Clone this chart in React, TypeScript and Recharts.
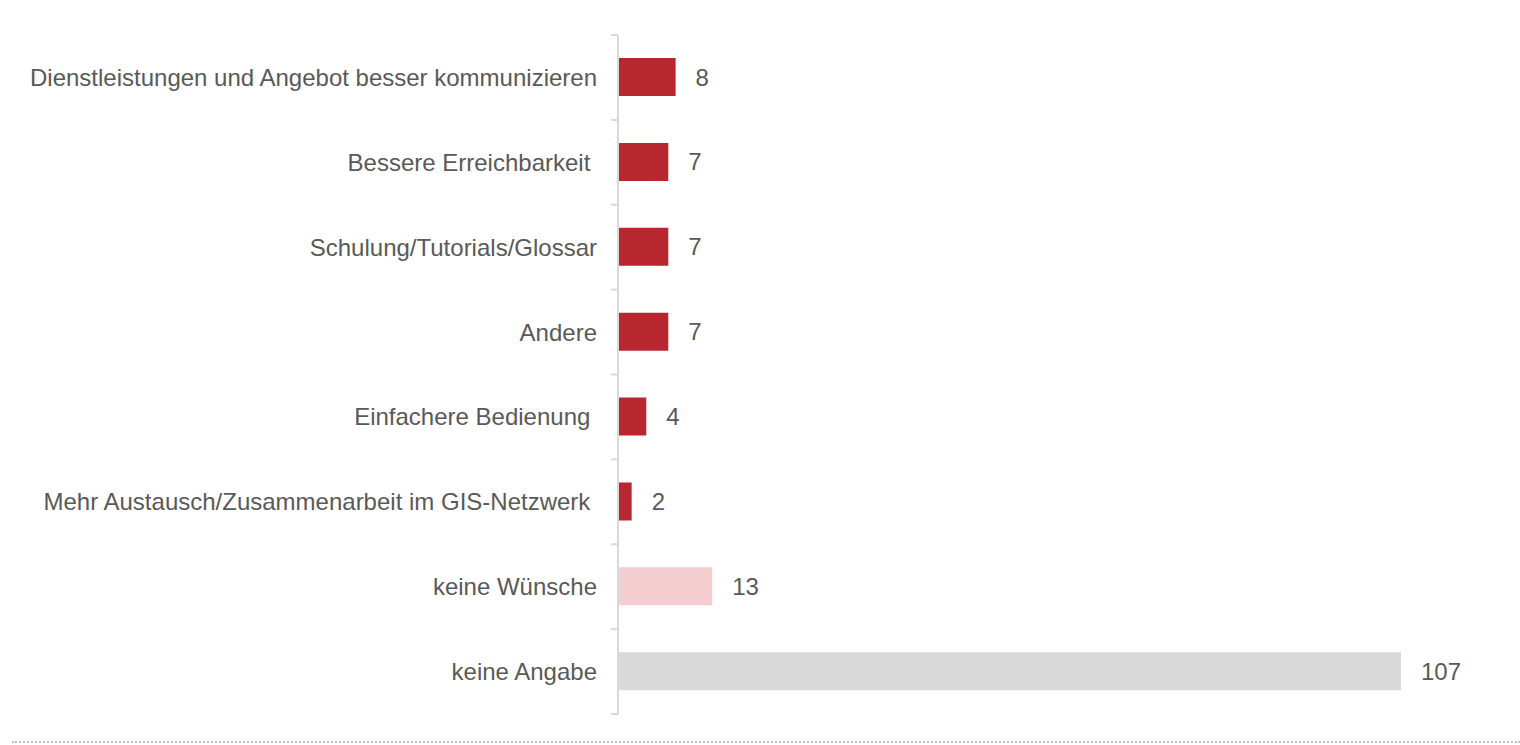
import React from 'react';
import { BarChart, Bar, XAxis, YAxis, Cell, LabelList } from 'recharts';

const categories = [
  'Dienstleistungen und Angebot besser kommunizieren',
  'Bessere Erreichbarkeit\u00A0',
  'Schulung/Tutorials/Glossar',
  'Andere',
  'Einfachere Bedienung\u00A0',
  'Mehr Austausch/Zusammenarbeit im GIS-Netzwerk\u00A0',
  'keine Wünsche',
  'keine Angabe',
];
const values = [8, 7, 7, 7, 4, 2, 13, 107];
const barColors = ['#B8272F', '#B8272F', '#B8272F', '#B8272F', '#B8272F', '#B8272F', '#F4CDD1', '#D9D9D9'];

const data = categories.map((c, i) => ({ name: c, value: values[i], color: barColors[i] }));

const W = 1520;
const H = 745;
const AXIS_X = 618;
const TOP = 35;
const BOTTOM = 714;
const RIGHT = 1402;
const BAND_HALF = (BOTTOM - TOP) / categories.length / 2;
const FONT = 'Arial, "Liberation Sans", sans-serif';
const TEXT = '#595959';
const AXIS_COLOR = '#D9D9D9';
const FS = 24;

const Tick = (props: any) => {
  const { payload, index } = props;
  const y = payload.coordinate;
  return (
    <g>
      <text x={AXIS_X - 21} y={y} dy="0.355em" textAnchor="end" fill={TEXT} fontSize={FS} fontFamily={FONT}>
        {payload.value}
      </text>
      <line x1={AXIS_X - 7} x2={AXIS_X} y1={y - BAND_HALF} y2={y - BAND_HALF} stroke={AXIS_COLOR} strokeWidth={2} />
      {index === categories.length - 1 && (
        <line x1={AXIS_X - 7} x2={AXIS_X} y1={y + BAND_HALF} y2={y + BAND_HALF} stroke={AXIS_COLOR} strokeWidth={2} />
      )}
    </g>
  );
};

export default function App() {
  return (
    <div style={{ position: 'absolute', left: 0, top: 0, width: W, height: H, background: '#fff' }}>
      <BarChart
        width={W}
        height={H}
        data={data}
        layout="vertical"
        margin={{ top: TOP, right: W - RIGHT, bottom: H - BOTTOM, left: 0 }}
        barCategoryGap={0}
      >
        <XAxis type="number" domain={[0, 107]} hide />
        <YAxis
          type="category"
          dataKey="name"
          width={AXIS_X}
          tickLine={false}
          axisLine={{ stroke: AXIS_COLOR, strokeWidth: 2 }}
          tick={<Tick />}
          interval={0}
        />
        <Bar dataKey="value" barSize={40} stroke="#FFFFFF" strokeWidth={2} isAnimationActive={false}>
          {data.map((d, i) => (
            <Cell key={i} fill={d.color} />
          ))}
          <LabelList
            dataKey="value"
            position="right"
            offset={19}
            fill={TEXT}
            fontSize={FS}
            fontFamily={FONT}
          />
        </Bar>
      </BarChart>
      <div
        style={{
          position: 'absolute',
          left: 12,
          top: 741,
          width: W - 12,
          height: 0,
          borderTop: '2px dotted #BFBFBF',
        }}
      />
    </div>
  );
}
